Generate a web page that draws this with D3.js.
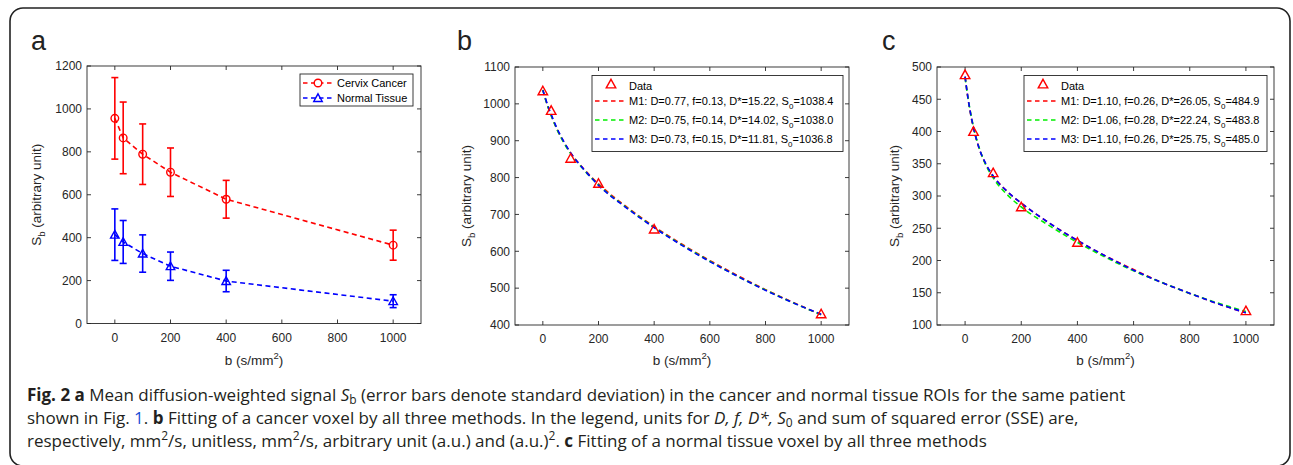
<!DOCTYPE html>
<html>
<head>
<meta charset="utf-8">
<script src="https://cdn.jsdelivr.net/npm/d3@7"></script>
<style>
  body { margin: 0; background: #fff; }
  svg { display: block; }
  .tick-label { font-family: "Liberation Sans", Arial, Helvetica, sans-serif; font-size: 12px; fill: #262626; }
  .ax-label { font-family: "Liberation Sans", Arial, Helvetica, sans-serif; font-size: 13.5px; fill: #262626; }
  .leg { font-family: "Liberation Sans", Arial, Helvetica, sans-serif; font-size: 11px; fill: #000; }
  .caption { font-family: "Open Sans", "Noto Sans", sans-serif; font-size: 17px; fill: #231f20; }
</style>
</head>
<body>
<svg id="fig" width="1293" height="465"></svg>
<script>
// b-values (s/mm^2)
var bValues = [0, 30, 100, 200, 400, 1000]
var xTicks = [0, 200, 400, 600, 800, 1000]

// panel a: ROI means and std
var cancerMean = [956, 865, 789, 705, 579, 365]
var cancerSd   = [190, 167, 141, 113, 88, 70]
var normalMean = [414, 380, 326, 267, 198, 104]
var normalSd   = [120, 100, 87, 66, 50, 30]
var aTicks = [0, 200, 400, 600, 800, 1000, 1200]

// panels b, c: fitted curves read at these b-values
var fitB = [0, 10, 20, 30, 50, 75, 100, 150, 200, 300, 400, 500, 600, 700, 800, 900, 1000]

var bData = [1035, 982, 852, 784, 660, 430]
var bM1 = [1038, 1012, 989, 969, 933, 897, 867, 821, 783, 721, 667, 619, 575, 534, 496, 461, 428]
var bM2 = [1038, 1011, 988, 968, 932, 895, 865, 819, 780, 719, 665, 617, 573, 532, 495, 460, 428]
var bM3 = [1037, 1013, 991, 971, 935, 898, 867, 820, 779, 718, 664, 616, 572, 532, 494, 460, 429]
var bTicks = [400, 500, 600, 700, 800, 900, 1000, 1100]
var bLegend = [
  ["M1: D=0.77, f=0.13, D*=15.22, S", "0", "=1038.4"],
  ["M2: D=0.75, f=0.14, D*=14.02, S", "0", "=1038.0"],
  ["M3: D=0.73, f=0.15, D*=11.81, S", "0", "=1036.8"]
]

var cData = [488, 400, 336, 283, 228, 122]
var cM1 = [485, 452, 426, 405, 374, 348, 331, 307, 289, 258, 231, 207, 186, 166, 149, 133, 119]
var cM2 = [484, 453, 428, 407, 375, 347, 328, 302, 283, 254, 228, 205, 184, 166, 149, 134, 121]
var cM3 = [485, 453, 427, 406, 374, 349, 331, 307, 289, 258, 231, 207, 185, 166, 149, 133, 119]
var cTicks = [100, 150, 200, 250, 300, 350, 400, 450, 500]
var cLegend = [
  ["M1: D=1.10, f=0.26, D*=26.05, S", "0", "=484.9"],
  ["M2: D=1.06, f=0.28, D*=22.24, S", "0", "=483.8"],
  ["M3: D=1.10, f=0.26, D*=25.75, S", "0", "=485.0"]
]

var fitColors = ["#ff0000", "#00ee00", "#0000ff"]
var axisColor = "#262626"

var svg = d3.select("#fig")

// outer frame (bottom edge falls just off the page)
svg.append("rect")
  .attr("x", 10).attr("y", 8)
  .attr("width", 1280).attr("height", 458)
  .attr("rx", 13).attr("ry", 13)
  .attr("fill", "none")
  .attr("stroke", "#222").attr("stroke-width", 1.6)

function makeAxes(o) {
  var g = svg.append("g")
  var x = d3.scaleLinear().domain([-100, 1100]).range([o.left, o.right])
  var y = d3.scaleLinear().domain(o.ydom).range([o.bottom, o.top])

  // panel letter
  svg.append("text")
    .attr("x", o.letterX).attr("y", 50)
    .style("font-family", "Liberation Sans, Arial, sans-serif")
    .style("font-size", "27px").style("fill", "#222")
    .text(o.letter)

  // box
  g.append("rect")
    .attr("x", o.left).attr("y", o.top)
    .attr("width", o.right - o.left).attr("height", o.bottom - o.top)
    .attr("fill", "none").attr("stroke", axisColor).attr("stroke-width", 0.9)

  // ticks, inward on all sides
  var tl = 4
  xTicks.forEach(function(t) {
    g.append("line").attr("x1", x(t)).attr("x2", x(t)).attr("y1", o.bottom).attr("y2", o.bottom - tl)
      .attr("stroke", axisColor).attr("stroke-width", 0.9)
    g.append("line").attr("x1", x(t)).attr("x2", x(t)).attr("y1", o.top).attr("y2", o.top + tl)
      .attr("stroke", axisColor).attr("stroke-width", 0.9)
    g.append("text").classed("tick-label", true)
      .attr("x", x(t)).attr("y", o.bottom + 18)
      .attr("text-anchor", "middle").text(t)
  })
  o.yticks.forEach(function(t) {
    g.append("line").attr("x1", o.left).attr("x2", o.left + tl).attr("y1", y(t)).attr("y2", y(t))
      .attr("stroke", axisColor).attr("stroke-width", 0.9)
    g.append("line").attr("x1", o.right).attr("x2", o.right - tl).attr("y1", y(t)).attr("y2", y(t))
      .attr("stroke", axisColor).attr("stroke-width", 0.9)
    g.append("text").classed("tick-label", true)
      .attr("x", o.left - 5).attr("y", y(t) + 4.3)
      .attr("text-anchor", "end").text(t)
  })

  // x label
  var xl = g.append("text").classed("ax-label", true)
    .attr("x", (o.left + o.right) / 2).attr("y", 365)
    .attr("text-anchor", "middle")
  xl.append("tspan").text("b (s/mm")
  xl.append("tspan").attr("dy", -6).style("font-size", "9.5px").text("2")
  xl.append("tspan").attr("dy", 6).text(")")

  // y label
  var yl = g.append("text").classed("ax-label", true)
    .attr("transform", "translate(" + o.ylabX + "," + ((o.top + o.bottom) / 2) + ") rotate(-90)")
    .attr("text-anchor", "middle")
  yl.append("tspan").text("S")
  yl.append("tspan").attr("dy", 4).style("font-size", "9.5px").text("b")
  yl.append("tspan").attr("dy", -4).text(" (arbitrary unit)")

  return { g: g, x: x, y: y }
}

function triangle(sel, cx, cy, color, w) {
  var h = w * 0.9
  sel.append("path")
    .attr("d", "M" + cx + "," + (cy - h * 0.55) + "L" + (cx + w / 2) + "," + (cy + h * 0.45) + "L" + (cx - w / 2) + "," + (cy + h * 0.45) + "Z")
    .attr("fill", "none").attr("stroke", color).attr("stroke-width", 1.4)
}

// ---------- panel a ----------
var A = makeAxes({ left: 87, right: 421, top: 66, bottom: 323.5, ydom: [0, 1200], yticks: aTicks,
  letter: "a", letterX: 31, ylabX: 41 })

var lineA = d3.line().x(function(d, i) { return A.x(bValues[i]) }).y(function(d) { return A.y(d) })

function errSeries(means, sds, color, marker) {
  var g = A.g.append("g")
  means.forEach(function(m, i) {
    var cx = A.x(bValues[i])
    g.append("line").attr("x1", cx).attr("x2", cx).attr("y1", A.y(m - sds[i])).attr("y2", A.y(m + sds[i]))
      .attr("stroke", color).attr("stroke-width", 1.6)
    ;[m - sds[i], m + sds[i]].forEach(function(v) {
      g.append("line").attr("x1", cx - 3.5).attr("x2", cx + 3.5).attr("y1", A.y(v)).attr("y2", A.y(v))
        .attr("stroke", color).attr("stroke-width", 1.6)
    })
  })
  g.append("path").datum(means).attr("d", lineA)
    .attr("fill", "none").attr("stroke", color).attr("stroke-width", 1.6).attr("stroke-dasharray", "5,3.5")
  means.forEach(function(m, i) {
    if (marker == "circle") {
      g.append("circle").attr("cx", A.x(bValues[i])).attr("cy", A.y(m)).attr("r", 3.8)
        .attr("fill", "none").attr("stroke", color).attr("stroke-width", 1.4)
    } else {
      triangle(g, A.x(bValues[i]), A.y(m), color, 8.5)
    }
  })
}
errSeries(cancerMean, cancerSd, "#ff0000", "circle")
errSeries(normalMean, normalSd, "#0000ff", "triangle")

// legend a
var la = svg.append("g")
la.append("rect").attr("x", 300).attr("y", 74).attr("width", 113).attr("height", 32)
  .attr("fill", "#fff").attr("stroke", axisColor).attr("stroke-width", 0.9)
;[["Cervix Cancer", "#ff0000", "circle", 83], ["Normal Tissue", "#0000ff", "triangle", 98]].forEach(function(k) {
  la.append("line").attr("x1", 303).attr("x2", 334).attr("y1", k[3]).attr("y2", k[3])
    .attr("stroke", k[1]).attr("stroke-width", 1.4).attr("stroke-dasharray", "4.5,3.5")
  if (k[2] == "circle") {
    la.append("circle").attr("cx", 318).attr("cy", k[3]).attr("r", 3.8)
      .attr("fill", "#fff").attr("stroke", k[1]).attr("stroke-width", 1.4)
  } else {
    triangle(la, 318, k[3], k[1], 8.5)
  }
  la.append("text").classed("leg", true).attr("x", 337).attr("y", k[3] + 4).text(k[0])
})

// ---------- panels b and c ----------
function fitPanel(o, data, fits, legendRows) {
  var P = makeAxes(o)
  var line = d3.line().curve(d3.curveMonotoneX)
    .x(function(d, i) { return P.x(fitB[i]) }).y(function(d) { return P.y(d) })
  fits.forEach(function(f, k) {
    P.g.append("path").datum(f).attr("d", line)
      .attr("fill", "none").attr("stroke", fitColors[k]).attr("stroke-width", 1.6)
      .attr("stroke-dasharray", "5,3.5")
  })
  data.forEach(function(v, i) {
    triangle(P.g, P.x(bValues[i]), P.y(v), "#ff0000", 9.5)
  })

  // legend
  var lg = svg.append("g")
  var lx = o.legX
  lg.append("rect").attr("x", lx).attr("y", 75.5).attr("width", o.legW).attr("height", 76)
    .attr("fill", "#fff").attr("stroke", axisColor).attr("stroke-width", 0.9)
  triangle(lg, lx + 19, 84, "#ff0000", 9.5)
  lg.append("text").classed("leg", true).attr("x", lx + 37).attr("y", 89.5).text("Data")
  var rowsY = [101, 120, 139]
  legendRows.forEach(function(r, k) {
    lg.append("line").attr("x1", lx + 3).attr("x2", lx + 35).attr("y1", rowsY[k]).attr("y2", rowsY[k])
      .attr("stroke", fitColors[k]).attr("stroke-width", 1.4).attr("stroke-dasharray", "4.5,3.5")
    var t = lg.append("text").classed("leg", true).attr("x", lx + 37).attr("y", rowsY[k] + 4)
    t.append("tspan").text(r[0])
    t.append("tspan").attr("dy", 3.5).style("font-size", "8px").text(r[1])
    t.append("tspan").attr("dy", -3.5).text(r[2])
  })
}

fitPanel({ left: 515, right: 849, top: 67, bottom: 325, ydom: [400, 1100], yticks: bTicks,
  letter: "b", letterX: 457, ylabX: 471, legX: 592, legW: 251 }, bData, [bM1, bM2, bM3], bLegend)

fitPanel({ left: 937, right: 1274, top: 67, bottom: 325, ydom: [100, 500], yticks: cTicks,
  letter: "c", letterX: 882, ylabX: 899, legX: 1024, legW: 243 }, cData, [cM1, cM2, cM3], cLegend)

// ---------- caption ----------
var cap = svg.append("g")
function capLine(y, parts) {
  var t = cap.append("text").classed("caption", true).attr("x", 27).attr("y", y)
  parts.forEach(function(p) {
    var s = t.append("tspan").text(p.t)
    if (p.b) s.style("font-weight", "bold")
    if (p.i) s.style("font-style", "italic")
    if (p.c) s.style("fill", p.c)
    if (p.sub) s.attr("dy", 3).style("font-size", "12px")
    if (p.sup) s.attr("dy", -7).style("font-size", "12px")
    if (p.back) s.attr("dy", p.back)
  })
}
capLine(401, [
  { t: "Fig. 2 a", b: 1 }, { t: " Mean diffusion-weighted signal " }, { t: "S", i: 1 },
  { t: "b", sub: 1 }, { t: " (error bars denote standard deviation) in the cancer and normal tissue ROIs for the same patient", back: -3 }
])
capLine(424, [
  { t: "shown in Fig. " }, { t: "1", c: "#1a4fd6" }, { t: ". " }, { t: "b", b: 1 },
  { t: " Fitting of a cancer voxel by all three methods. In the legend, units for " },
  { t: "D, f, D*, S", i: 1 }, { t: "0", sub: 1 }, { t: " and sum of squared error (SSE) are,", back: -3 }
])
capLine(447, [
  { t: "respectively, mm" }, { t: "2", sup: 1 }, { t: "/s, unitless, mm", back: 7 }, { t: "2", sup: 1 },
  { t: "/s, arbitrary unit (a.u.) and (a.u.)", back: 7 }, { t: "2", sup: 1 }, { t: ". ", back: 7 },
  { t: "c", b: 1 }, { t: " Fitting of a normal tissue voxel by all three methods" }
])
</script>
</body>
</html>
